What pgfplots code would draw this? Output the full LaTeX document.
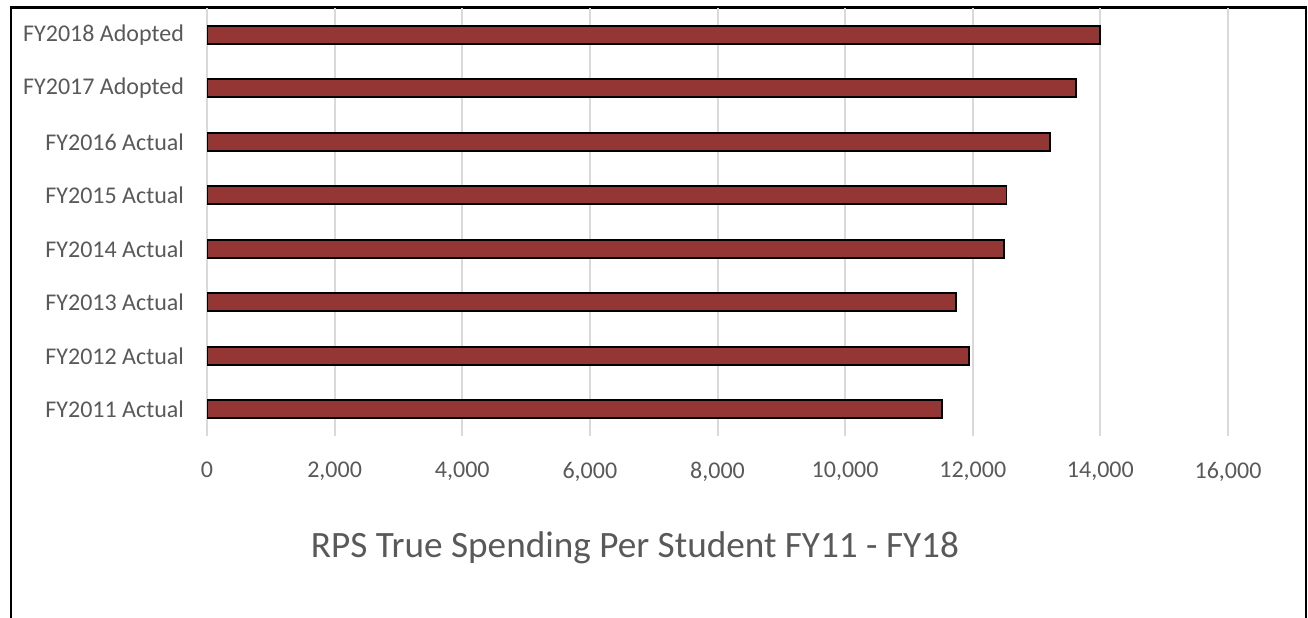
\documentclass[border=0pt]{standalone}
\usepackage{fontspec}
\setmainfont{Carlito}
\usepackage{pgfplots}
\pgfplotsset{compat=1.18}
\definecolor{barred}{HTML}{943634}
\definecolor{txtgray}{HTML}{595959}
\definecolor{gridgray}{HTML}{D9D9D9}
\begin{document}
\begin{tikzpicture}
\useasboundingbox (0pt,0pt) rectangle (654pt,-308.5pt);
\draw[line width=1.1pt] (5.5pt,-330pt) -- (5.5pt,-3.75pt) -- (653pt,-3.75pt) -- (653pt,-330pt);
\begin{axis}[
  at={(103.5pt,-218pt)}, anchor=south west,
  scale only axis, width=510.5pt, height=214pt,
  xbar, bar width=9pt,
  xmin=0, xmax=16000, ymin=0.5, ymax=8.5,
  xtick={0,2000,...,16000},
  ytick={1,2,3,4,5,6,7,8},
  yticklabels={FY2011 Actual,FY2012 Actual,FY2013 Actual,FY2014 Actual,FY2015 Actual,FY2016 Actual,FY2017 Adopted,FY2018 Adopted},
  xmajorgrids, grid style={gridgray, line width=1pt},
  axis line style={draw=none}, major tick length=0pt,
  tick label style={font=\fontsize{12}{14}\selectfont, text=txtgray},
  xticklabel style={yshift=-9.5pt},
  yticklabel style={xshift=-8pt},
  /pgf/number format/assume math mode=true,
  /pgf/number format/1000 sep={,},
  scaled x ticks=false,
]
\addplot[fill=barred, draw=black, line width=0.9pt] coordinates {
  (11515,1) (11940,2) (11740,3) (12490,4) (12530,5) (13210,6) (13620,7) (14000,8)
};
\end{axis}
\node[text=txtgray, font=\fontsize{18.6}{22}\selectfont] at (317.5pt,-274pt) {RPS True Spending Per Student FY11 - FY18};
\end{tikzpicture}
\end{document}
